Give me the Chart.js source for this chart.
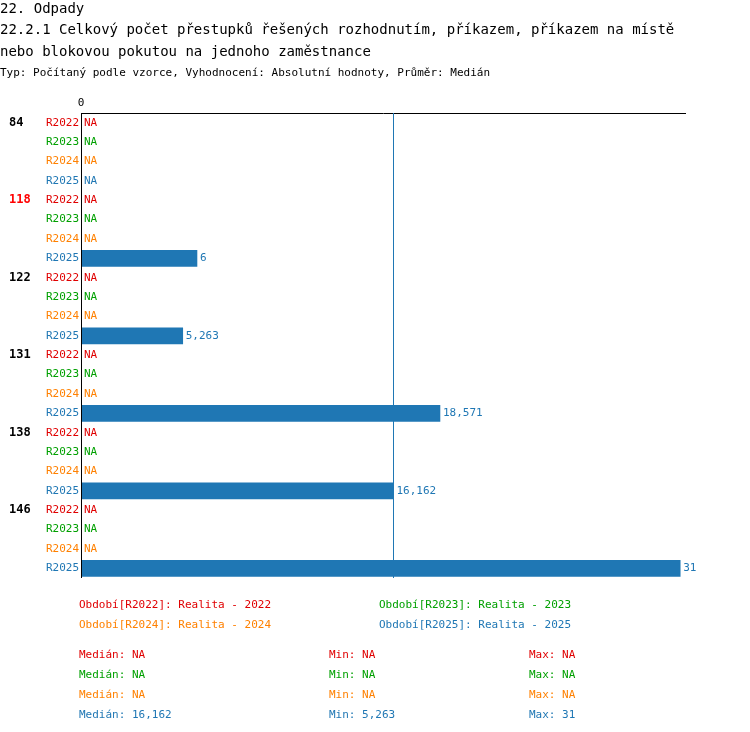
<!DOCTYPE html>
<html><head><meta charset="utf-8">
<script src="https://cdn.jsdelivr.net/npm/chart.js@4/dist/chart.umd.min.js"></script>
<style>
body{margin:0;background:#fff;font-family:"DejaVu Sans Mono",monospace;}
#wrap{position:relative;width:750px;height:732px;}
canvas{position:absolute;left:0;top:0;}
.t{position:absolute;white-space:nowrap;font-size:11px;}
.h{position:absolute;white-space:nowrap;font-size:14px;left:0;}
</style></head><body>
<div id="wrap">
<canvas id="c" width="750" height="732"></canvas>
<div class="h" style="top:0px">22. Odpady</div>
<div class="h" style="top:21px">22.2.1 Celkový počet přestupků řešených rozhodnutím, příkazem, příkazem na místě</div>
<div class="h" style="top:43px">nebo blokovou pokutou na jednoho zaměstnance</div>
<div class="t" style="left:0;top:66px">Typ: Počítaný podle vzorce, Vyhodnocení: Absolutní hodnoty, Průměr: Medián</div>
<div id="leg"></div>
</div>
<script>
var groups = ['84', '118', '122', '131', '138', '146'];
var flagged = ['118'];
var periods = ['R2022', 'R2023', 'R2024', 'R2025'];
var periodColors = ['#e00000', '#00a000', '#ff8000', '#1f77b4'];
var values2022 = [null, null, null, null, null, null];
var values2023 = [null, null, null, null, null, null];
var values2024 = [null, null, null, null, null, null];
var values2025 = [null, 6, 5.263, 18.571, 16.162, 31];
var valueLabels2025 = ['NA', '6', '5,263', '18,571', '16,162', '31'];
var median = [null, null, null, 16.162];
var medianText = ['NA', 'NA', 'NA', '16,162'];
var minText = ['NA', 'NA', 'NA', '5,263'];
var maxText = ['NA', 'NA', 'NA', '31'];

var series = [values2022, values2023, values2024, values2025];
var labels = [], data = [], colors = [], texts = [];
groups.forEach(function(g, gi){
  periods.forEach(function(p, pi){
    labels.push(g + '|' + p);
    var v = series[pi][gi];
    data.push(v);
    colors.push(periodColors[pi]);
    texts.push(v === null ? 'NA' : (pi === 3 ? valueLabels2025[gi] : String(v)));
  });
});

var drawPlugin = {
  id: 'draw',
  afterDatasetsDraw: function(chart){
    var ctx = chart.ctx, x = chart.scales.x, y = chart.scales.y, a = chart.chartArea;
    ctx.save();
    ctx.strokeStyle = '#000'; ctx.lineWidth = 1;
    ctx.beginPath();
    ctx.moveTo(a.left, a.top + 0.5); ctx.lineTo(a.right, a.top + 0.5);
    ctx.moveTo(Math.round(x.getPixelForValue(0)) + 0.5, a.top); ctx.lineTo(Math.round(x.getPixelForValue(0)) + 0.5, a.bottom);
    ctx.stroke();
    var mx = Math.round(x.getPixelForValue(median[3])) + 0.5;
    ctx.strokeStyle = '#1f77b4';
    ctx.beginPath(); ctx.moveTo(mx, a.top); ctx.lineTo(mx, a.bottom); ctx.stroke();
    ctx.font = '11px "DejaVu Sans Mono"';
    ctx.textBaseline = 'middle';
    ctx.fillStyle = '#000'; ctx.textAlign = 'center';
    ctx.fillText('0', x.getPixelForValue(0), a.top - 10);
    labels.forEach(function(l, i){
      var yy = y.getPixelForValue(i), pi = i % 4, gi = Math.floor(i / 4);
      ctx.fillStyle = colors[i]; ctx.textAlign = 'right';
      ctx.font = '11px "DejaVu Sans Mono"';
      ctx.fillText(periods[pi], a.left - 2, yy);
      ctx.textAlign = 'left';
      var v = data[i];
      var xx = v === null ? a.left + 3 : x.getPixelForValue(v) + 3;
      ctx.fillText(texts[i], xx, yy);
      if (pi === 0) {
        ctx.font = 'bold 12px "DejaVu Sans Mono"';
        ctx.fillStyle = flagged.indexOf(groups[gi]) >= 0 ? '#ff0000' : '#000';
        ctx.fillText(groups[gi], 9, yy);
      }
    });
    ctx.restore();
  }
};

new Chart(document.getElementById('c'), {
  type: 'bar',
  data: { labels: labels, datasets: [{ data: data, backgroundColor: '#1f77b4', barThickness: 16 }] },
  options: {
    indexAxis: 'y', responsive: false, animation: false,
    layout: { padding: { left: 81, top: 113, right: 64, bottom: 154 } },
    plugins: { legend: { display: false }, tooltip: { enabled: false } },
    scales: {
      x: { display: false, min: 0, max: 31.3 },
      y: { display: false }
    }
  },
  plugins: [drawPlugin]
});

var leg = document.getElementById('leg'), html = '';
var legPos = [[79, 598], [379, 598], [79, 618], [379, 618]];
periods.forEach(function(p, i){
  html += '<div class="t" style="left:' + legPos[i][0] + 'px;top:' + legPos[i][1] + 'px;color:' + periodColors[i] + '">Období[' + p + ']: Realita - ' + p.slice(1) + '</div>';
  var top = 648 + i * 20;
  html += '<div class="t" style="left:79px;top:' + top + 'px;color:' + periodColors[i] + '">Medián: ' + medianText[i] + '</div>';
  html += '<div class="t" style="left:329px;top:' + top + 'px;color:' + periodColors[i] + '">Min: ' + minText[i] + '</div>';
  html += '<div class="t" style="left:529px;top:' + top + 'px;color:' + periodColors[i] + '">Max: ' + maxText[i] + '</div>';
});
leg.innerHTML = html;
</script>
</body></html>
